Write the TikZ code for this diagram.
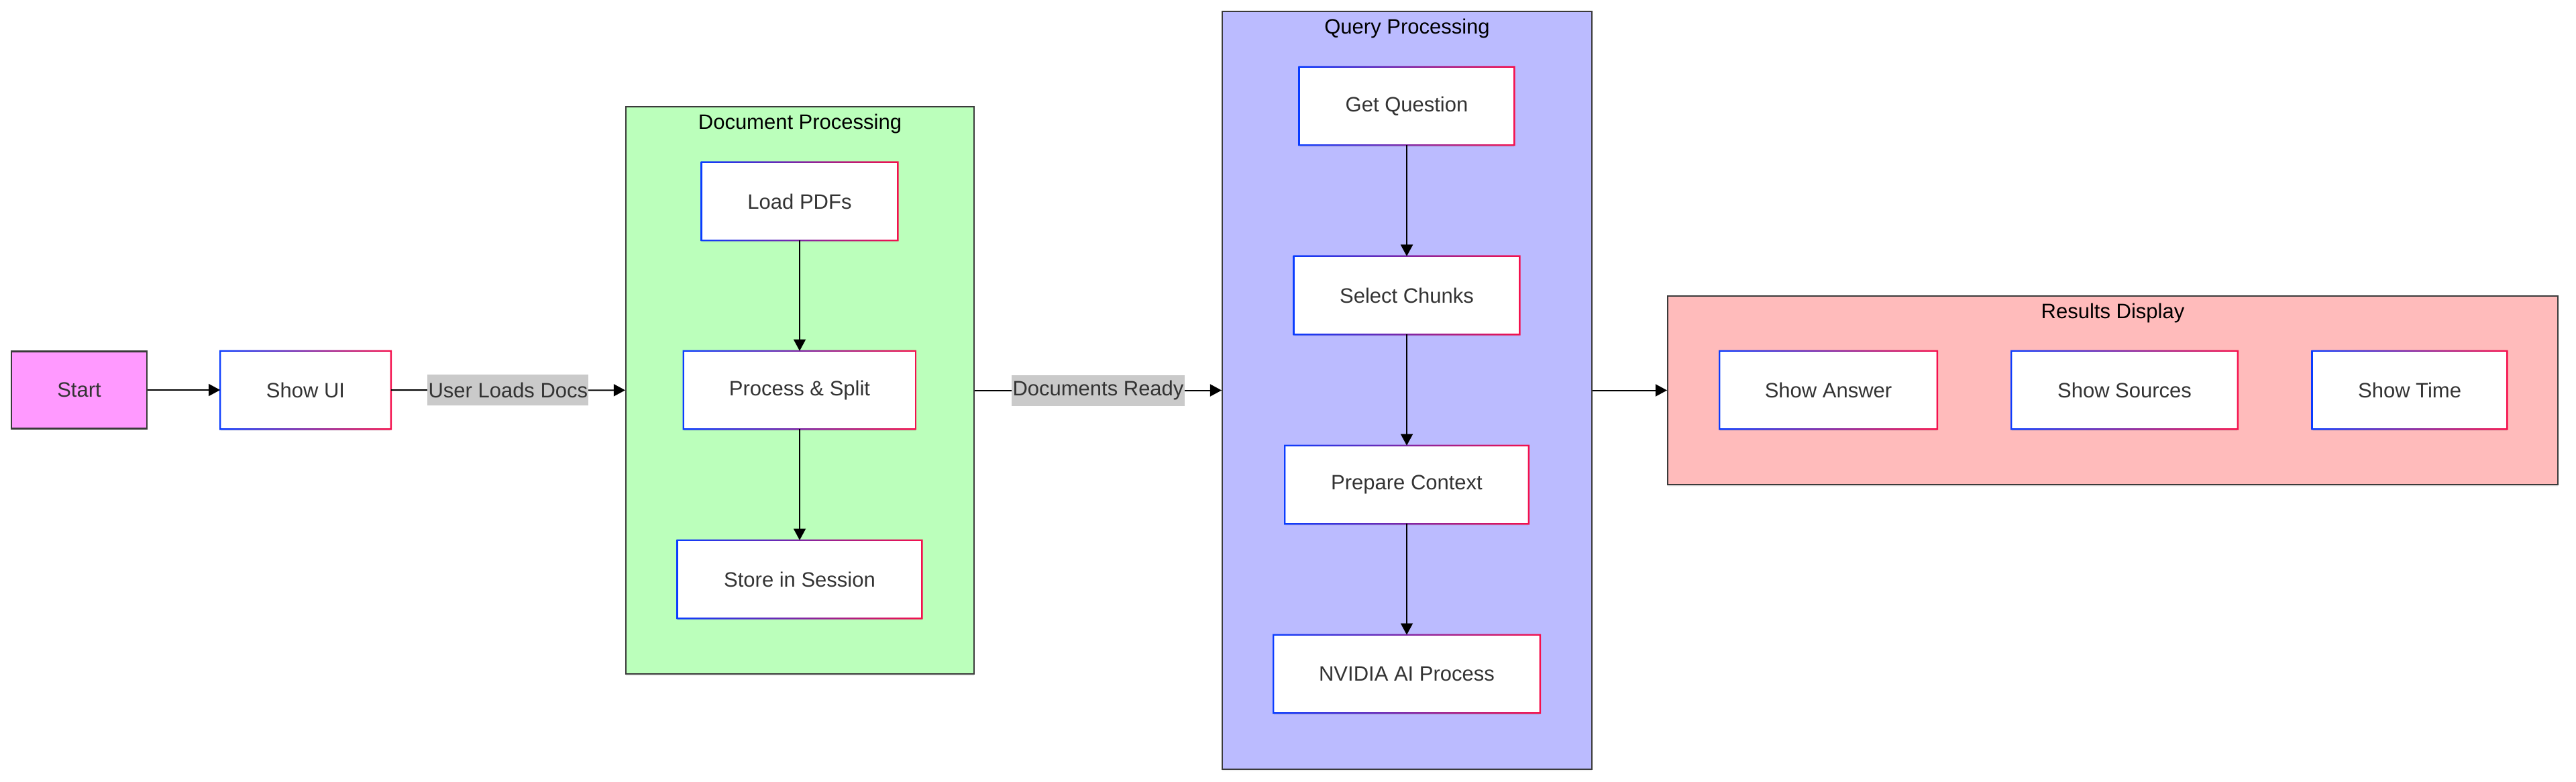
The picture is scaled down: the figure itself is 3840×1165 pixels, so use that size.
\documentclass[tikz,border=0pt]{standalone}
\usepackage{fontspec}
\setmainfont{Liberation Sans}
\usetikzlibrary{arrows.meta, positioning, fit, shadows}
\definecolor{startpink}{HTML}{FF99FF}
\definecolor{docgreen}{HTML}{BBFFBB}
\definecolor{queryblue}{HTML}{BBBBFF}
\definecolor{resultred}{HTML}{FFBBBB}
\definecolor{labelgray}{HTML}{CACACA}
\definecolor{textgray}{HTML}{333333}
\definecolor{framegray}{HTML}{3A3A3A}
\definecolor{edgeblue}{HTML}{0A3CFF}
\definecolor{edgered}{HTML}{F5104C}
\begin{document}
\begin{tikzpicture}[x=0.25pt, y=-0.25pt, >={Triangle[length=4.3pt,width=4.5pt]},
	every node/.style={font=\fontsize{7.75}{9}\selectfont},
	stepbox/.style={rectangle, fill=white, text=textgray, inner sep=0pt, minimum height=28.75pt, drop shadow={shadow xshift=0pt, shadow yshift=-0.8pt, opacity=0.12}},
	startbox/.style={rectangle, fill=startpink, draw=framegray, line width=0.6pt, text=textgray, inner sep=0pt, minimum width=50.5pt, minimum height=28.75pt},
	groupbox/.style={rectangle, draw=framegray, line width=0.5pt, inner sep=0pt, drop shadow={shadow xshift=0pt, shadow yshift=-0.8pt, opacity=0.1}},
	grouptitle/.style={anchor=north, inner sep=2.75pt, text=black},
	edgelabel/.style={fill=labelgray, text=textgray, inner xsep=0.3pt, inner ysep=0pt, minimum height=11.5pt},
	link/.style={->, line width=0.5pt}]
	\useasboundingbox (0,0) rectangle (3840,1165);

	% groups
	\node[groupbox, fill=docgreen, fit={(933,159) (1452,1004)}] (docs) {}; \node[grouptitle] (doctitle) at (docs.north) {Document Processing};
	\node[groupbox, fill=queryblue, fit={(1822,17) (2373,1146)}] (query) {}; \node[grouptitle] (querytitle) at (query.north) {Query Processing};
	\node[groupbox, fill=resultred, fit={(2486,441) (3813,722)}] (results) {}; \node[grouptitle] (resulttitle) at (results.north) {Results Display};

	% steps
	\node[startbox] (start) at (118,581) {Start};
	\node[stepbox, minimum width=63.25pt] (showui) at (455.5,581) {Show UI};
	\node[stepbox, minimum width=72.75pt] (loadpdf) at (1192,300) {Load PDFs};
	\node[stepbox, minimum width=86.25pt] (split) at (1192,581) {Process \& Split};
	\node[stepbox, minimum width=90.75pt] (store) at (1192,863) {Store in Session};
	\node[stepbox, minimum width=79.75pt] (getq) at (2097,158) {Get Question};
	\node[stepbox, minimum width=83.75pt] (chunks) at (2097,440) {Select Chunks};
	\node[stepbox, minimum width=90.5pt] (context) at (2097,722) {Prepare Context};
	\node[stepbox, minimum width=99pt] (nvidia) at (2097,1004) {NVIDIA AI Process};
	\node[stepbox, minimum width=80.75pt] (answer) at (2725.5,581) {Show Answer};
	\node[stepbox, minimum width=84pt] (sources) at (3167,581) {Show Sources};
	\node[stepbox, minimum width=72.25pt] (time) at (3592,581) {Show Time};

	\foreach \n in {showui,loadpdf,split,store,getq,chunks,context,nvidia,answer,sources,time}
		\shade[left color=edgeblue, right color=edgered, even odd rule] ([shift={(-0.3pt,0.3pt)}]\n.north west) rectangle ([shift={(0.3pt,-0.3pt)}]\n.south east) ([shift={(0.3pt,-0.3pt)}]\n.north west) rectangle ([shift={(-0.3pt,0.3pt)}]\n.south east);

	% links
	\draw[link] (start) -- (showui);
	\draw[link] (showui) -- node[edgelabel] {User Loads Docs} (docs);
	\draw[link] (loadpdf) -- (split); \draw[link] (split) -- (store);
	\draw[link] (docs) -- node[edgelabel] {Documents Ready} (query);
	\draw[link] (getq) -- (chunks); \draw[link] (chunks) -- (context); \draw[link] (context) -- (nvidia);
	\draw[link] (query) -- (results);
\end{tikzpicture}
\end{document}
